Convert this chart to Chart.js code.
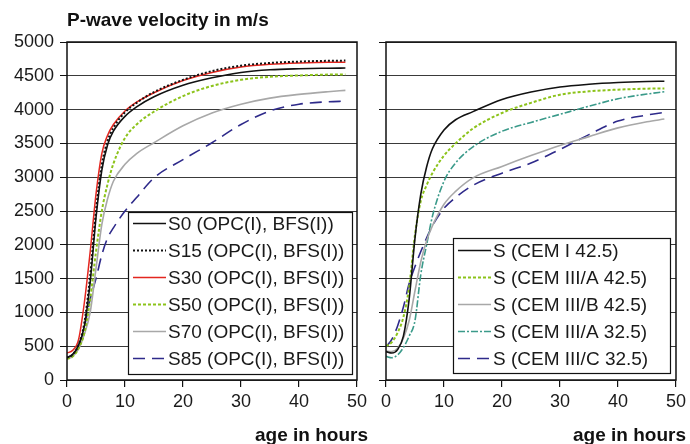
<!DOCTYPE html>
<html>
<head>
<meta charset="utf-8">
<script src="https://cdn.jsdelivr.net/npm/chart.js@4"></script>
<style>
  body { margin: 0; background: #fff; }
  #wrap { position: relative; width: 690px; height: 444px; overflow: hidden; }
  canvas { position: absolute; top: 0; }
  .lbl { position: absolute; font: bold 19px "Liberation Sans", Arial, sans-serif; line-height: 19px; color: #111; white-space: nowrap; }
</style>
</head>
<body>
<div id="wrap">
  <canvas id="left" width="372" height="444" style="left:0"></canvas>
  <canvas id="right" width="360" height="444" style="left:330px"></canvas>
  <div class="lbl" style="left:67px; top:10px">P-wave velocity in m/s</div>
  <div class="lbl" style="left:255px; top:425px">age in hours</div>
  <div class="lbl" style="left:573px; top:425px">age in hours</div>
</div>
<script>
// age in hours
const hours = [0, 1, 2, 3, 4, 5, 6, 7, 8, 10, 12, 15, 20, 25, 30, 35, 40, 45, 48];

// left panel: slag content series
const leftLabels = [
  "S0 (OPC(I), BFS(I))", "S15 (OPC(I), BFS(I))", "S30 (OPC(I), BFS(I))",
  "S50 (OPC(I), BFS(I))", "S70 (OPC(I), BFS(I))", "S85 (OPC(I), BFS(I))"
];
const s0  = [330, 380, 520, 800, 1450, 2400, 3100, 3480, 3680, 3900, 4040, 4190, 4360, 4470, 4550, 4590, 4605, 4612, 4615];
const s15 = [330, 380, 520, 850, 1550, 2500, 3180, 3540, 3730, 3960, 4100, 4260, 4440, 4570, 4650, 4690, 4710, 4722, 4725];
const s30 = [400, 440, 600, 1150, 1900, 2750, 3350, 3620, 3780, 3980, 4110, 4250, 4430, 4550, 4630, 4670, 4690, 4700, 4700];
const s50 = [310, 350, 470, 700, 1200, 1900, 2500, 2900, 3200, 3580, 3780, 3970, 4200, 4350, 4440, 4485, 4505, 4518, 4520];
const s70 = [310, 350, 460, 680, 1000, 1650, 2300, 2680, 2940, 3190, 3350, 3510, 3760, 3950, 4080, 4170, 4225, 4265, 4285];
const s85 = [330, 380, 500, 780, 1200, 1500, 1850, 2100, 2250, 2500, 2700, 2990, 3260, 3510, 3780, 3980, 4080, 4115, 4125];

// right panel: cement types
const rightLabels = [
  "S (CEM I 42.5)", "S (CEM III/A 42.5)", "S (CEM III/B 42.5)",
  "S (CEM III/A 32.5)", "S (CEM III/C 32.5)"
];
const cemI       = [420, 400, 450, 650, 1200, 2100, 2750, 3150, 3420, 3700, 3850, 3970, 4150, 4260, 4335, 4375, 4400, 4415, 4420];
const cemIIIA425 = [500, 560, 700, 930, 1380, 2150, 2650, 2880, 3060, 3320, 3500, 3720, 3950, 4100, 4220, 4270, 4295, 4310, 4312];
const cemIIIB425 = [430, 420, 470, 620, 880, 1320, 1750, 2060, 2280, 2600, 2790, 2990, 3160, 3320, 3470, 3600, 3730, 3820, 3860];
const cemIIIA325 = [350, 330, 370, 480, 650, 880, 1560, 2000, 2420, 2940, 3210, 3450, 3680, 3810, 3930, 4050, 4160, 4230, 4265];
const cemIIIC325 = [490, 600, 800, 1080, 1430, 1680, 1900, 2100, 2280, 2540, 2700, 2880, 3060, 3210, 3410, 3630, 3830, 3920, 3960];

const yTicks = { min: 0, max: 5000, step: 500 };
const xTicks = { min: 0, max: 50, step: 10 };

const FONT = '"Liberation Sans", Arial, sans-serif';
const pts = vals => hours.map((h, i) => ({ x: h, y: vals[i] }));

function series(label, vals, color, width, dash) {
  return {
    label, data: pts(vals), borderColor: color, borderWidth: width,
    borderDash: dash, pointRadius: 0, fill: false, cubicInterpolationMode: 'monotone'
  };
}

// box round the plot area
const frame = {
  id: 'frame',
  afterDatasetsDraw(chart) {
    const a = chart.chartArea, ctx = chart.ctx;
    ctx.save();
    ctx.strokeStyle = '#111';
    ctx.lineWidth = 1.5;
    ctx.strokeRect(a.left, a.top, a.right - a.left, a.bottom - a.top);
    ctx.restore();
  }
};

// legend drawn inside the plot, bottom right
const insideLegend = {
  id: 'insideLegend',
  afterDatasetsDraw(chart, args, o) {
    const { ctx, chartArea } = chart;
    const sets = chart.data.datasets;
    const h = sets.length * o.rowH;
    const x = chartArea.right - o.right - o.width;
    const y = chartArea.bottom - o.bottom - h;
    ctx.save();
    ctx.fillStyle = '#fff';
    ctx.fillRect(x, y, o.width, h);
    ctx.strokeStyle = '#111';
    ctx.lineWidth = 1.2;
    ctx.strokeRect(x + 0.5, y + 0.5, o.width, h);
    ctx.font = '19px ' + FONT;
    ctx.textBaseline = 'middle';
    sets.forEach((d, i) => {
      const cy = y + o.padTop + o.rowH * (i + 0.5);
      ctx.beginPath();
      ctx.setLineDash(d.borderDash || []);
      ctx.strokeStyle = d.borderColor;
      ctx.lineWidth = d.borderWidth;
      ctx.moveTo(x + 5, cy);
      ctx.lineTo(x + 38, cy);
      ctx.stroke();
      ctx.setLineDash([]);
      ctx.fillStyle = '#1a1a1a';
      ctx.fillText(d.label, x + 40, cy + 1);
    });
    ctx.restore();
  }
};

function makeChart(id, datasets, yWidth, showYLabels, padRight, legendOpts) {
  return new Chart(document.getElementById(id), {
    type: 'line',
    data: { datasets },
    options: {
      responsive: false,
      animation: false,
      devicePixelRatio: 1,
      layout: { padding: { top: 42, right: padRight, bottom: 0, left: 0 } },
      plugins: {
        legend: { display: false },
        tooltip: { enabled: false },
        insideLegend: legendOpts
      },
      scales: {
        x: {
          type: 'linear', min: xTicks.min, max: xTicks.max,
          ticks: { stepSize: xTicks.step, color: '#1a1a1a', font: { family: FONT, size: 18 }, padding: 4, maxRotation: 0 },
          grid: { color: 'transparent', tickColor: '#111', tickLength: 7, lineWidth: 1.2 },
          border: { display: false },
          afterFit: s => { s.height = 64; }
        },
        y: {
          min: yTicks.min, max: yTicks.max,
          ticks: {
            stepSize: yTicks.step, display: showYLabels, color: '#1a1a1a',
            font: { family: FONT, size: 18 }, padding: 6,
            callback: v => String(v)
          },
          grid: { color: '#3a3a3a', tickColor: '#111', tickLength: 7, lineWidth: 1 },
          border: { display: false },
          afterFit: s => { s.width = yWidth; }
        }
      }
    },
    plugins: [frame, insideLegend]
  });
}

const BLACK = '#111111', RED = '#e3261f', GREEN = '#8cc31a', GRAY = '#a8a8a8', NAVY = '#2e2a8a', TEAL = '#3a9a8a';

makeChart('left', [
  series(leftLabels[0], s0, BLACK, 1.6, []),
  series(leftLabels[1], s15, BLACK, 2, [2, 2]),
  series(leftLabels[2], s30, RED, 1.5, []),
  series(leftLabels[3], s50, GREEN, 2, [3, 2]),
  series(leftLabels[4], s70, GRAY, 1.6, []),
  series(leftLabels[5], s85, NAVY, 1.6, [12, 7])
], 67, true, 15, { width: 224, rowH: 27, padTop: -2, right: 5, bottom: 6 });

makeChart('right', [
  series(rightLabels[0], cemI, BLACK, 1.6, []),
  series(rightLabels[1], cemIIIA425, GREEN, 2, [3, 2]),
  series(rightLabels[2], cemIIIB425, GRAY, 1.6, []),
  series(rightLabels[3], cemIIIA325, TEAL, 1.6, [7, 2, 2, 2]),
  series(rightLabels[4], cemIIIC325, NAVY, 1.6, [12, 7])
], 56, false, 13, { width: 217, rowH: 27, padTop: -1, right: 6, bottom: 7 });
</script>
</body>
</html>
